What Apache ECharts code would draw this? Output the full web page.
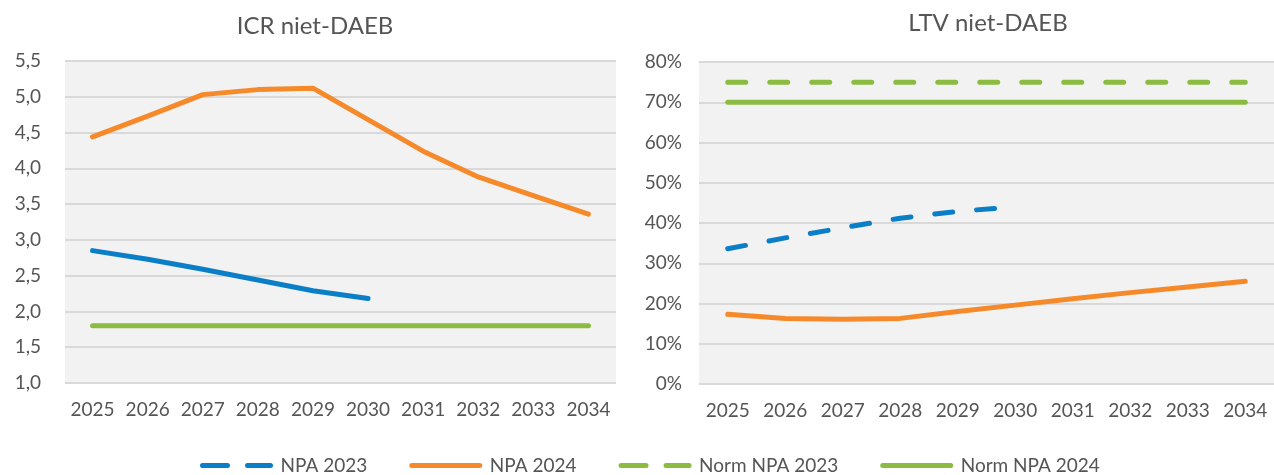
<!DOCTYPE html>
<html><head><meta charset="utf-8">
<script src="https://cdn.jsdelivr.net/npm/echarts@6/dist/echarts.min.js"></script>
<style>html,body{margin:0;padding:0;background:#fff}#c{width:1274px;height:475px}</style>
</head><body><div id="c"></div>
<script>
const years = ['2025','2026','2027','2028','2029','2030','2031','2032','2033','2034'];
const icrNpa2023 = [2.85, 2.73, 2.59, 2.44, 2.29, 2.18, null, null, null, null];
const icrNpa2024 = [4.44, 4.73, 5.03, 5.10, 5.12, 4.68, 4.24, 3.88, 3.62, 3.36];
const icrNorm2024 = [1.8, 1.8, 1.8, 1.8, 1.8, 1.8, 1.8, 1.8, 1.8, 1.8];
const ltvNpa2023 = [33.6, 36.3, 38.8, 41.2, 42.9, 44.0, null, null, null, null];
const ltvNpa2024 = [17.3, 16.3, 16.1, 16.3, 18.0, 19.6, 21.2, 22.7, 24.1, 25.5];
const ltvNorm2023 = [75, 75, 75, 75, 75, 75, 75, 75, 75, 75];
const ltvNorm2024 = [70, 70, 70, 70, 70, 70, 70, 70, 70, 70];
const seriesNames = ['NPA 2023', 'NPA 2024', 'Norm NPA 2023', 'Norm NPA 2024'];
const dashedNames = ['NPA 2023', 'Norm NPA 2023'];

const BLUE = '#0a7fc8', ORANGE = '#f68a2a', GREEN = '#8bbb40', TXT = '#555555';
const FONT = 'Lato';
const DASH = [18, 24];

function line(name, data, color, dashed, idx, z) {
  return {
    name, type: 'line', data, xAxisIndex: idx, yAxisIndex: idx,
    showSymbol: false, symbol: 'none', z: z || 2,
    lineStyle: { color, width: 5, type: dashed ? DASH : 'solid', cap: 'round', join: 'round' },
    itemStyle: { color }
  };
}

const chart = echarts.init(document.getElementById('c'));
chart.setOption({
  animation: false,
  textStyle: { fontFamily: FONT, color: TXT },
  title: [
    { text: 'ICR niet-DAEB', left: 310, top: 9, textAlign: 'center',
      textStyle: { fontFamily: FONT, fontSize: 24, fontWeight: 'normal', color: TXT } },
    { text: 'LTV niet-DAEB', left: 983, top: 6, textAlign: 'center',
      textStyle: { fontFamily: FONT, fontSize: 24, fontWeight: 'normal', color: TXT } }
  ],
  legend: {
    data: seriesNames.map(n => dashedNames.includes(n)
      ? { name: n, lineStyle: { type: [25, 20], width: 5, cap: 'round' } }
      : { name: n, lineStyle: { width: 5, cap: 'round' } }),
    left: 195, top: 451,
    itemWidth: 68, itemHeight: 14, itemGap: 42,
    itemStyle: { opacity: 0 },
    lineStyle: { width: 5, cap: 'round' },
    textStyle: { fontFamily: FONT, fontSize: 19, color: TXT, padding: [0, 0, 0, 5] }
  },
  grid: [
    { left: 65, top: 61, width: 551, height: 322, show: true, backgroundColor: '#f2f2f2', borderWidth: 0 },
    { left: 699, top: 62, width: 578, height: 322, show: true, backgroundColor: '#f2f2f2', borderWidth: 0 }
  ],
  xAxis: [0, 1].map(i => ({
    type: 'category', data: years, gridIndex: i, boundaryGap: true,
    axisLine: { show: false }, axisTick: { show: false },
    axisLabel: { fontFamily: FONT, fontSize: 19, color: TXT, margin: 17, interval: 0 }
  })),
  yAxis: [
    { type: 'value', gridIndex: 0, min: 1, max: 5.5, interval: 0.5,
      axisLine: { show: false }, axisTick: { show: false },
      splitLine: { lineStyle: { color: '#d9d9d9', width: 2 } },
      axisLabel: { fontFamily: FONT, fontSize: 19, color: TXT, margin: 24,
        formatter: v => v.toFixed(1).replace('.', ',') } },
    { type: 'value', gridIndex: 1, min: 0, max: 80, interval: 10,
      axisLine: { show: false }, axisTick: { show: false },
      splitLine: { lineStyle: { color: '#d9d9d9', width: 2 } },
      axisLabel: { fontFamily: FONT, fontSize: 19, color: TXT, margin: 17,
        formatter: v => v + '%' } }
  ],
  series: [
    line('NPA 2023', ltvNpa2023, BLUE, true, 1),
    line('NPA 2024', ltvNpa2024, ORANGE, false, 1),
    line('Norm NPA 2023', ltvNorm2023, GREEN, true, 1),
    line('Norm NPA 2024', ltvNorm2024, GREEN, false, 1),
    line('NPA 2023', icrNpa2023, BLUE, false, 0),
    line('NPA 2024', icrNpa2024, ORANGE, false, 0),
    line('Norm NPA 2024', icrNorm2024, GREEN, false, 0, 3)
  ]
});
</script></body></html>
